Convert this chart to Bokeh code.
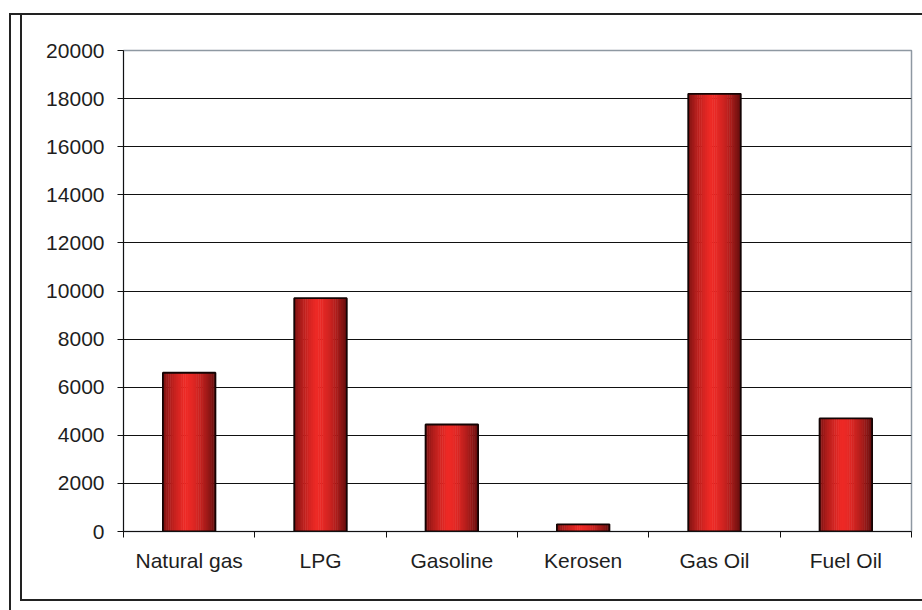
from bokeh.plotting import figure
from bokeh.models import ColumnDataSource, Range1d, FixedTicker, InlineStyleSheet
from bokeh.transform import dodge
from bokeh.embed import file_html
from bokeh.resources import INLINE

# Consumption by fuel type
categories = ["Natural gas", "LPG", "Gasoline", "Kerosen", "Gas Oil", "Fuel Oil"]
values = [6600, 9700, 4450, 300, 18200, 4700]
y_ticks = [0, 2000, 4000, 6000, 8000, 10000, 12000, 14000, 16000, 18000, 20000]

xs = [i + 0.5 for i in range(len(categories))]
src = ColumnDataSource(data=dict(x=xs, top=values, name=categories))

# outer chart border drawn around the canvas
frame_css = InlineStyleSheet(css="""
:host { position: relative; }
:host::before {
  content: ""; position: absolute; pointer-events: none; z-index: 10;
  left: 20px; top: 13px; width: 1000px; height: 588px;
  border-left: 2px solid #222; border-top: 2px solid #222; border-bottom: 2px solid #222;
  box-sizing: border-box;
}
:host::after {
  content: ""; position: absolute; pointer-events: none; z-index: 10;
  left: 9px; top: 13px; width: 12px; height: 700px;
  border-left: 2px solid #222; border-top: 2px solid #222;
}
""")

p = figure(
    width=922, height=610,
    x_range=Range1d(0, len(categories)), y_range=Range1d(0, 20000),
    output_backend="svg", toolbar_location=None,
    min_border_left=123, min_border_right=11,
    min_border_top=50, min_border_bottom=79,
    background_fill_color="white", border_fill_color="white",
    stylesheets=[frame_css],
)

FONT = "Liberation Sans"
TEXT = "#1e1e1e"
SIZE = "21px"

# plot area frame
p.outline_line_color = "#8e98a2"
p.outline_line_width = 1.5

# horizontal grid lines
p.xgrid.visible = False
p.ygrid.ticker = FixedTicker(ticks=y_ticks[1:-1])
p.ygrid.grid_line_color = "#111111"
p.ygrid.grid_line_width = 1

# y axis
p.yaxis.ticker = FixedTicker(ticks=y_ticks)
p.yaxis.axis_line_color = "#111111"
p.yaxis.major_tick_line_color = "#111111"
p.yaxis.major_tick_out = 6
p.yaxis.major_tick_in = 0
p.yaxis.minor_tick_line_color = None
p.yaxis.major_label_standoff = 13
p.yaxis.major_label_text_font = FONT
p.yaxis.major_label_text_font_size = SIZE
p.yaxis.major_label_text_color = TEXT

# x axis: labels under bar centres, ticks on category boundaries
p.xaxis.ticker = FixedTicker(ticks=xs, minor_ticks=list(range(len(categories) + 1)))
p.xaxis.major_label_overrides = {x: c for x, c in zip(xs, categories)}
p.xaxis.axis_line_color = "#111111"
p.xaxis.major_tick_line_color = None
p.xaxis.minor_tick_line_color = "#111111"
p.xaxis.minor_tick_out = 6
p.xaxis.minor_tick_in = 0
p.xaxis.major_label_standoff = 11
p.xaxis.major_label_text_font = FONT
p.xaxis.major_label_text_font_size = SIZE
p.xaxis.major_label_text_color = TEXT

# cylinder-shaded bars built from thin vertical strips
BAR_W = 0.4
N = 28
dark = (100, 14, 14)
bright = (238, 42, 38)
peak = 0.42
strip_w = BAR_W / N
for j in range(N):
    t = (j + 0.5) / N
    if t <= peak:
        f = (t / peak) ** 0.55
    else:
        f = 1 - ((t - peak) / (1 - peak)) ** 1.8
    f = max(0.0, min(1.0, f))
    r, g, b = (int(dark[k] + (bright[k] - dark[k]) * f) for k in range(3))
    off = -BAR_W / 2 + (j + 0.5) * strip_w
    p.vbar(x=dodge("x", off), top="top", bottom=0, width=strip_w * 1.25,
           source=src, fill_color=f"#{r:02x}{g:02x}{b:02x}", line_color=None)

p.vbar(x="x", top="top", bottom=0, width=BAR_W, source=src,
       fill_color=None, line_color="#140404", line_width=1.8)

open("out.html", "w").write(file_html(p, INLINE))
